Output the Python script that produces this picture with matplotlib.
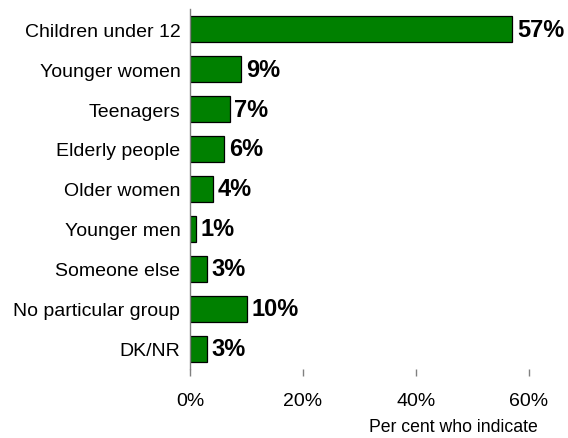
import matplotlib
matplotlib.use("Agg")
import matplotlib.pyplot as plt

categories = ["Children under 12", "Younger women", "Teenagers", "Elderly people",
              "Older women", "Younger men", "Someone else", "No particular group", "DK/NR"]
values = [57, 9, 7, 6, 4, 1, 3, 10, 3]
xticks = [0, 20, 40, 60]
xtick_labels = ["0%", "20%", "40%", "60%"]
xlabel = "Per cent who indicate"

plt.rcParams['font.family'] = ['Liberation Sans', 'DejaVu Sans']

fig = plt.figure(figsize=(5.68, 4.39), dpi=100)
ax = fig.add_axes([190/568, 1-370/439, (529-190)/568, 360/439])

y = list(range(len(categories)))
ax.barh(y, values, height=0.65, color="#008000", edgecolor="black", linewidth=0.9)
for yi, v in zip(y, values):
    ax.annotate(f"{v}%", xy=(v, yi), xytext=(3.5, 0), textcoords="offset points",
                ha="left", va="center", fontsize=17, fontweight="bold", color="black")

ax.set_xlim(0, 60)
ax.set_ylim(len(categories) - 0.5, -0.5)
ax.set_yticks(y)
ax.set_yticklabels(categories, fontsize=14)
ax.set_xticks(xticks)
ax.set_xticklabels(xtick_labels, fontsize=14)
ax.tick_params(axis="y", length=0, pad=7)
ax.tick_params(axis="x", length=5, width=1, color="#808080", pad=11.5)

for s in ["top", "right", "bottom"]:
    ax.spines[s].set_visible(False)
ax.spines["left"].set_color("#808080")
ax.spines["left"].set_linewidth(1)

fig.text(538/568, 1-428/439, xlabel, ha="right", va="center", fontsize=12.7)

fig.savefig("out.png", dpi=100)
